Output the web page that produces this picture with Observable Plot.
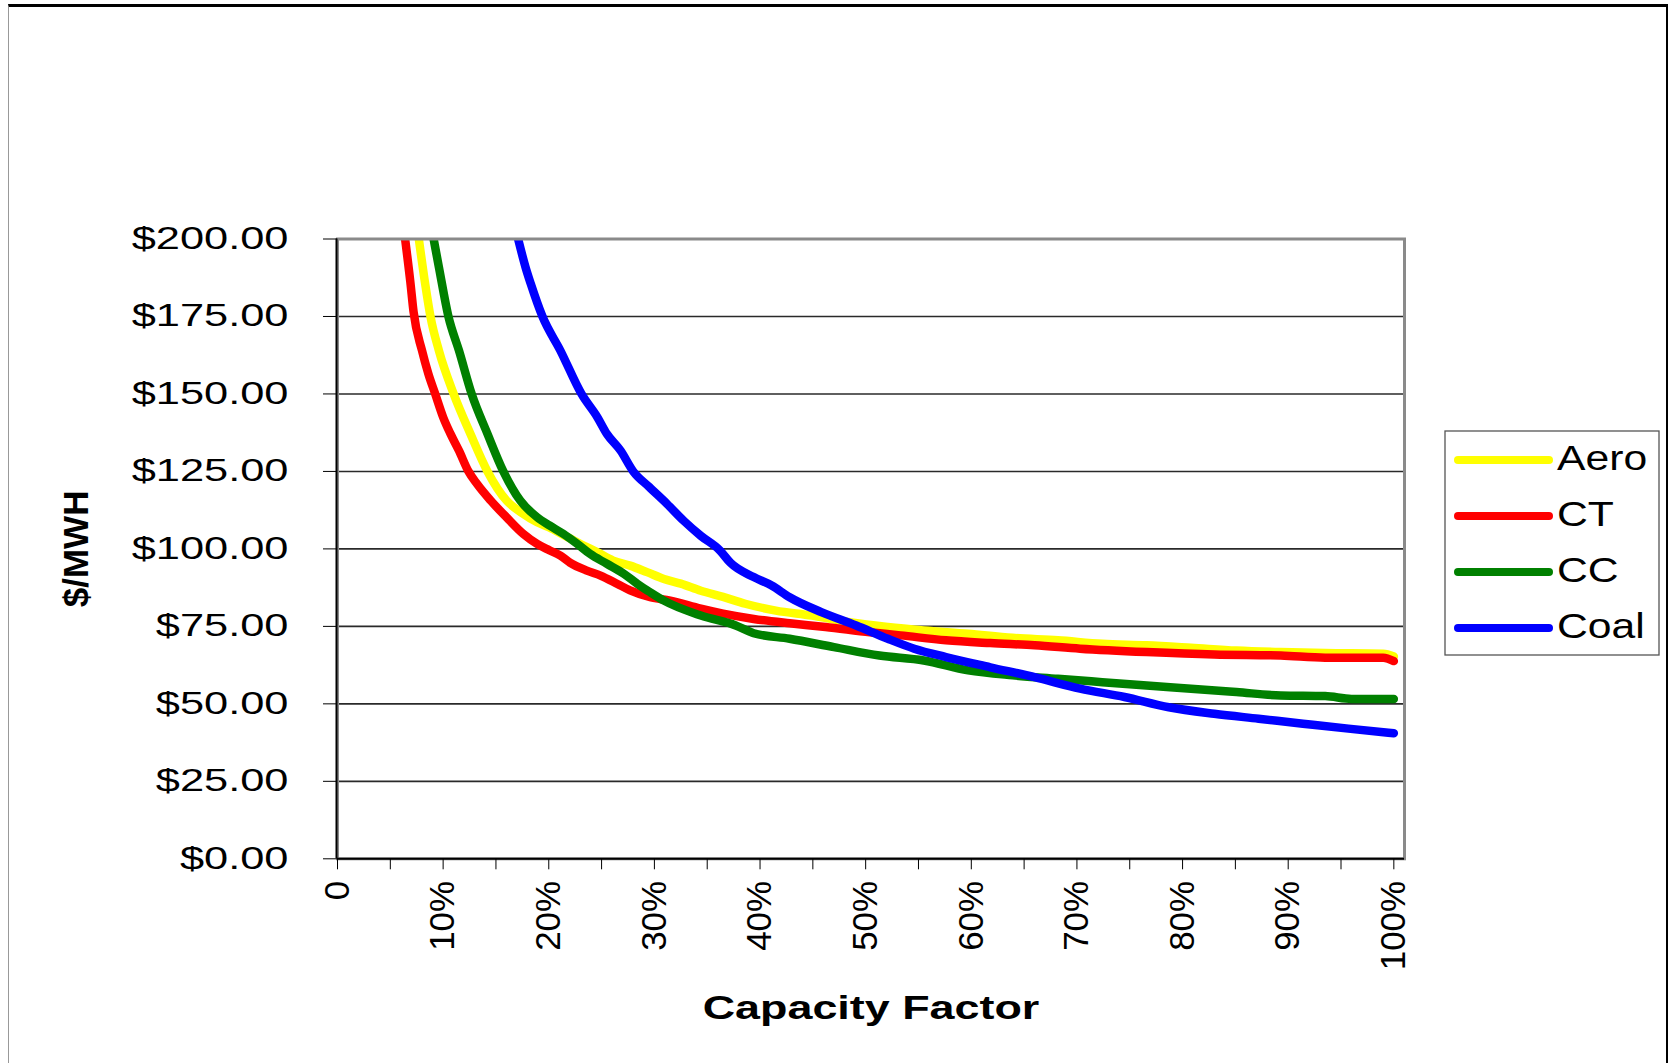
<!DOCTYPE html>
<html>
<head>
<meta charset="utf-8">
<script src="https://cdn.jsdelivr.net/npm/d3@7"></script>
<script src="https://cdn.jsdelivr.net/npm/@observablehq/plot@0.6"></script>
<style>
html, body { margin: 0; padding: 0; background: #fff; }
#wrap { position: relative; width: 1669px; height: 1063px; overflow: hidden; font-family: "Liberation Sans", Arial, sans-serif; background: #fff; }
#border { position: absolute; left: 8px; top: 4px; width: 1660px; height: 1100px; border-top: 3px solid #000; border-left: 1px solid #999; border-right: 2px solid #000; box-sizing: border-box; pointer-events: none; }
#chart { position: absolute; left: 0; top: 0; }
#legend { position: absolute; left: 1444px; top: 430px; }
</style>
</head>
<body>
<div id="wrap"><div id="border"></div><div id="chart"></div><div id="legend"></div></div>
<script>
// ---- data ----
const seriesNames = ["Aero", "CT", "CC", "Coal"];
const seriesColors = ["#FFFF00", "#FF0000", "#008000", "#0000FF"];

const aeroCF   = [0.077,0.083,0.088,0.096,0.110,0.126,0.142,0.160,0.175,0.189,0.200,0.214,0.230,0.246,0.261,0.277,0.293,0.309,0.325,0.344,0.365,0.386,0.415,0.449,0.483,0.521,0.555,0.597,0.639,0.682,0.724,0.766,0.808,0.851,0.893,0.935,0.990,1.000];
const aeroCost = [200,185.5,175,164,150,137,125,115.6,111.5,108.6,107,104.5,101.6,98.9,96.2,94.6,92.5,90.3,88.8,86.5,84.5,82.3,80.1,78.5,76.4,74.8,73.7,72.6,71.3,70.5,69.4,68.9,68.1,67.2,66.7,66.4,66.2,65.3];

const ctCF   = [0.064,0.069,0.072,0.080,0.086,0.0925,0.100,0.107,0.115,0.124,0.132,0.145,0.160,0.176,0.189,0.201,0.211,0.220,0.236,0.249,0.265,0.277,0.296,0.315,0.344,0.365,0.394,0.428,0.462,0.504,0.533,0.576,0.618,0.660,0.703,0.766,0.830,0.893,0.935,0.990,1.000];
const ctCost = [200,186,176.5,164,156.5,150,142.5,137.1,131.7,125,121,115.6,110.2,104.8,101.6,99.5,97.8,95.6,93.0,91.4,88.7,86.6,84.4,83.3,80.7,79.1,77.4,76.0,74.8,73.1,72.1,70.5,69.6,68.9,67.8,66.7,65.9,65.6,64.9,64.9,63.8];

const ccCF   = [0.091,0.096,0.105,0.115,0.127,0.142,0.157,0.173,0.189,0.201,0.214,0.227,0.239,0.255,0.271,0.284,0.296,0.309,0.344,0.377,0.394,0.428,0.470,0.513,0.555,0.597,0.639,0.682,0.724,0.766,0.808,0.851,0.893,0.935,0.960,1.000];
const ccCost = [200,190.9,175,164,150,137.1,125,115.6,110.2,107.5,104.8,101.6,98.4,95.2,92.0,88.7,86.0,83.3,78.5,75.3,72.8,71.0,68.3,65.6,64.0,60.8,59.2,58.1,57.0,55.9,54.9,53.8,52.7,52.5,51.6,51.6];

const coalCF   = [0.171,0.178,0.183,0.194,0.211,0.231,0.246,0.255,0.268,0.280,0.295,0.312,0.328,0.344,0.362,0.372,0.394,0.411,0.428,0.458,0.491,0.521,0.546,0.576,0.618,0.660,0.703,0.745,0.787,0.830,0.872,0.914,0.957,1.000];
const coalCost = [200,190.9,185.5,175,164,150,142.5,137.1,131.7,125,120,114.5,109,104.2,99.5,95.5,90.9,88.2,84.4,79.6,75.3,71.0,67.8,65.1,61.8,58.6,54.9,52.2,48.9,46.8,45.2,43.6,42.0,40.5];

const yTicks = [0,25,50,75,100,125,150,175,200];
const xMajorTicks = [0,0.1,0.2,0.3,0.4,0.5,0.6,0.7,0.8,0.9,1.0];
const xMinorTicks = [0,0.05,0.1,0.15,0.2,0.25,0.3,0.35,0.4,0.45,0.5,0.55,0.6,0.65,0.7,0.75,0.8,0.85,0.9,0.95,1.0];
const xTickLabels = ["0","10%","20%","30%","40%","50%","60%","70%","80%","90%","100%"];
const xTitle = "Capacity Factor";
const yTitle = "$/MWH";

// ---- build table ----
const seriesCF = [aeroCF, ctCF, ccCF, coalCF];
const seriesCost = [aeroCost, ctCost, ccCost, coalCost];
const rows = [];
seriesNames.forEach((name, s) => {
  seriesCF[s].forEach((cf, i) => rows.push({series: name, cf, cost: seriesCost[s][i]}));
});

const FONT = "'Liberation Sans', Arial, sans-serif";

const chart = Plot.plot({
  width: 1669,
  height: 1063,
  marginLeft: 337,
  marginRight: 265,
  marginTop: 238.5,
  marginBottom: 204.7,
  style: {fontFamily: FONT, background: "transparent", color: "#000", overflow: "visible"},
  x: {domain: [0, 1.0101], label: null},
  y: {domain: [0, 200], label: null},
  color: {domain: seriesNames, range: seriesColors},
  marks: [
    Plot.ruleY(yTicks.filter(d => d > 0 && d < 200), {stroke: "#2a2a2a", strokeWidth: 1.6}),
    Plot.line(rows, {x: "cf", y: "cost", z: "series", stroke: "series", strokeWidth: 8.5,
      curve: "monotone-x", strokeLinejoin: "round", strokeLinecap: "round", clip: true}),
    Plot.frame({stroke: "#8a8a8a", strokeWidth: 3}),
    Plot.ruleX([0], {stroke: "#000", strokeWidth: 2, dx: -1}),
    Plot.ruleY([0], {stroke: "#000", strokeWidth: 2}),
    Plot.axisY({ticks: yTicks, tickSize: 14, tickPadding: 35, fontSize: 31, stroke: "#000",
      tickFormat: d => "$" + d.toFixed(2), label: null}),
    Plot.axisX({ticks: xMinorTicks, tickSize: 11, stroke: "#000", tickFormat: () => "", label: null}),
    Plot.axisX({ticks: xMajorTicks, tickSize: 0, tickPadding: 22, tickRotate: -90, fontSize: 35,
      textAnchor: "end", lineAnchor: "middle",
      tickFormat: d => xTickLabels[Math.round(d * 10)], label: null}),
    Plot.text([yTitle], {frameAnchor: "left", dx: -261, rotate: -90, fontSize: 35, fontWeight: "bold",
      textAnchor: "middle", lineAnchor: "middle"}),
    Plot.text([xTitle], {frameAnchor: "bottom", dy: 149, fontSize: 34, fontWeight: "bold",
      textAnchor: "middle", lineAnchor: "middle"})
  ]
});
document.getElementById("chart").appendChild(chart);

// stretch text horizontally like the reference (Excel rendering)
function stretch(el, sx) {
  const t = el.getAttribute("transform") || "";
  const x = +el.getAttribute("x") || 0, y = +el.getAttribute("y") || 0;
  el.setAttribute("transform", `${t} translate(${x},${y}) scale(${sx},1) translate(${-x},${-y})`);
}
d3.select(chart).selectAll('g[aria-label="y-axis tick label"] text').each(function() { stretch(this, 1.4); });
d3.select(chart).selectAll("text").each(function() {
  if (this.textContent === xTitle) stretch(this, 1.32);
});

// ---- legend ----
const lg = d3.select("#legend").append("svg").attr("width", 217).attr("height", 227)
  .style("font-family", FONT);
lg.append("rect").attr("x", 1).attr("y", 1).attr("width", 214).attr("height", 224)
  .attr("fill", "#fff").attr("stroke", "#555").attr("stroke-width", 1.3);
seriesNames.forEach((name, i) => {
  const cy = 30 + i * 56;
  lg.append("line").attr("x1", 14).attr("x2", 105).attr("y1", cy).attr("y2", cy)
    .attr("stroke", seriesColors[i]).attr("stroke-width", 8).attr("stroke-linecap", "round");
  lg.append("text").attr("x", 113).attr("y", cy + 10).attr("font-size", 35).attr("fill", "#000")
    .attr("transform", `translate(113,0) scale(1.22,1) translate(-113,0)`).text(name);
});
</script>
</body>
</html>
